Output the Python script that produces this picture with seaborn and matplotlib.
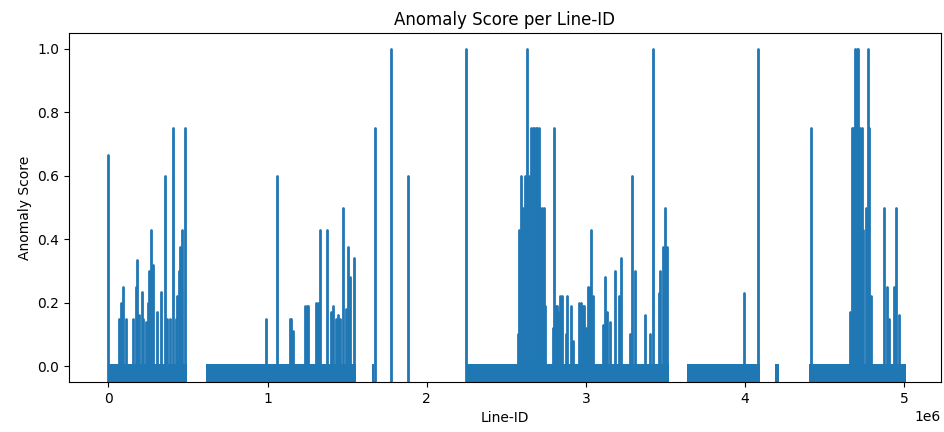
import matplotlib
matplotlib.use("Agg")
import matplotlib.pyplot as plt
import numpy as np
import pandas as pd
import seaborn as sns

# Line-ID ranges where every line in the range scored 0
zero_start = [0, 613_000, 1_654_000, 2_245_000, 3_635_000, 4_190_000, 4_405_000]
zero_end = [492_000, 1_557_000, 1_669_000, 3_521_000, 4_097_000, 4_212_000, 5_012_000]

# Line-IDs with a non-zero anomaly score
spike_ids = [
    0, 69_000, 80_000, 90_000, 110_000, 157_000, 172_000, 182_000, 193_000,
    210_000, 216_000, 236_000, 251_000, 257_000, 268_000, 281_000, 308_000,
    329_000, 354_000, 370_000, 387_000, 404_000, 425_000, 433_000, 442_000,
    450_000, 463_000, 480_000,
    991_000, 1_058_000, 1_138_000, 1_147_000, 1_157_000, 1_232_000, 1_245_000,
    1_257_000, 1_307_000, 1_319_000, 1_327_000, 1_371_000, 1_398_000,
    1_408_000, 1_430_000, 1_442_000, 1_455_000, 1_471_000, 1_490_000,
    1_505_000, 1_519_000, 1_545_000, 1_675_000, 1_775_000, 1_880_000,
    2_247_000, 2_574_000, 2_582_000, 2_595_000, 2_606_000, 2_616_000,
    2_633_000, 2_645_000, 2_656_000, 2_666_000, 2_676_000, 2_686_000,
    2_696_000, 2_704_000, 2_714_000, 2_725_000, 2_735_000, 2_746_000,
    2_792_000, 2_800_000, 2_810_000, 2_818_000, 2_823_000, 2_840_000,
    2_850_000, 2_876_000, 2_884_000, 2_909_000, 2_918_000, 2_960_000,
    2_970_000, 2_980_000, 2_990_000, 3_000_000, 3_012_000, 3_024_000,
    3_033_000, 3_042_000, 3_109_000, 3_119_000, 3_134_000, 3_155_000,
    3_186_000, 3_211_000, 3_224_000, 3_280_000, 3_287_000, 3_308_000,
    3_371_000, 3_406_000, 3_423_000, 3_458_000, 3_469_000, 3_486_000,
    3_500_000, 3_511_000, 3_993_000, 4_081_000, 4_417_000, 4_660_000,
    4_670_000, 4_681_000, 4_691_000, 4_702_000, 4_713_000, 4_723_000,
    4_733_000, 4_744_000, 4_758_000, 4_771_000, 4_781_000, 4_794_000,
    4_874_000, 4_891_000, 4_905_000, 4_937_000, 4_952_000, 4_968_000,
]
spike_scores = [
    0.667, 0.15, 0.20, 0.25, 0.15, 0.15, 0.25, 0.333, 0.16,
    0.235, 0.15, 0.14, 0.20, 0.30, 0.43, 0.32, 0.17,
    0.235, 0.60, 0.15, 0.15, 0.75, 0.15, 0.22, 0.30,
    0.375, 0.43, 0.75,
    0.15, 0.60, 0.15, 0.15, 0.11, 0.19, 0.19,
    0.19, 0.20, 0.20, 0.43, 0.43, 0.17,
    0.19, 0.15, 0.16, 0.15, 0.50, 0.18,
    0.375, 0.28, 0.34, 0.75, 1.0, 0.60,
    1.0, 0.10, 0.43, 0.60, 0.50, 0.60,
    1.0, 0.60, 0.75, 0.75, 0.75, 0.75,
    0.75, 0.75, 0.50, 0.50, 0.50, 0.19,
    0.12, 0.75, 0.19, 0.19, 0.17, 0.22,
    0.22, 0.10, 0.22, 0.19, 0.08, 0.20,
    0.20, 0.19, 0.19, 0.12, 0.25, 0.25,
    0.43, 0.22, 0.13, 0.28, 0.17, 0.14,
    0.30, 0.22, 0.34, 0.10, 0.60, 0.30,
    0.16, 0.10, 1.0, 0.23, 0.30, 0.375,
    0.50, 0.375, 0.23, 1.0, 0.75, 0.17,
    0.75, 0.75, 1.0, 1.0, 1.0, 0.75,
    0.75, 0.43, 0.50, 1.0, 0.75, 0.22,
    0.50, 0.25, 0.15, 0.25, 0.50, 0.16,
]

color = "#1f77b4"
y_lo, y_hi = -0.05, 1.05

fig = plt.figure(figsize=(9.44, 4.32), dpi=100)
ax = fig.add_axes([69 / 944, 1 - 382 / 432, (941 - 69) / 944, (382 - 33) / 432])

# each scored line is a vertical stroke rising from the floor of the view
rows = []
for i, (lid, s) in enumerate(zip(spike_ids, spike_scores)):
    rows.append({"Line-ID": lid, "Anomaly Score": y_lo, "unit": i})
    rows.append({"Line-ID": lid, "Anomaly Score": s, "unit": i})
df = pd.DataFrame(rows)

# dense runs of zero-scored lines
for s, e in zip(zero_start, zero_end):
    ax.fill_between([s, e], y_lo, 0.008, color=color, lw=0)

sns.lineplot(data=df, x="Line-ID", y="Anomaly Score", units="unit",
             estimator=None, sort=False, color=color, lw=2.0, ax=ax)
for line in ax.get_lines():
    line.set_solid_capstyle("round")

ax.set_xlim(-248_000, 5_232_000)
ax.set_ylim(y_lo, y_hi)
ax.set_title("Anomaly Score per Line-ID", fontsize=12)
ax.set_xlabel("Line-ID")
ax.set_ylabel("Anomaly Score")

fig.savefig("out.png", dpi=100)
